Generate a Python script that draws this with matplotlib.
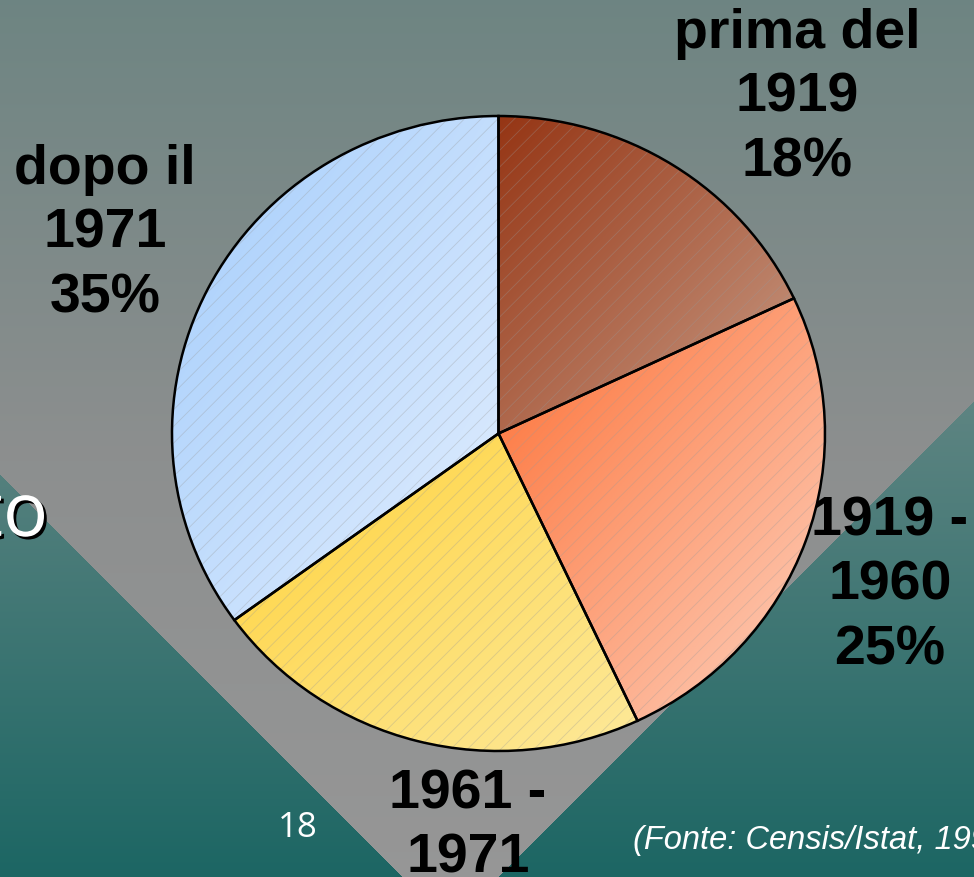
import numpy as np
import matplotlib.pyplot as plt
from matplotlib.patches import Wedge
import matplotlib.patheffects as pe

# dati del grafico
etichette = ["prima del\n1919", "1919 -\n1960", "1961 -\n1971", "dopo il\n1971"]
percentuali = [18, 25, 22, 35]
colori_inizio = ["#953514", "#fd7035", "#ffd23a", "#a4cdfc"]
colori_fine = ["#c99c86", "#fdd2bf", "#fde99a", "#e2eefe"]

# posizioni delle etichette (pixel, y verso il basso)
pos_etichette = [(797, 98), (890, 586), (468, 859), (105, 234)]

W, H = 974, 878
fig = plt.figure(figsize=(W / 100, H / 100), dpi=100)

# sfondo della diapositiva
yy, xx = np.mgrid[0:H, 0:W]
alto = np.array([0.43, 0.52, 0.51])
centro = np.array([0.55, 0.56, 0.56])
basso = np.array([0.59, 0.59, 0.59])
t1 = np.clip(yy / 450, 0, 1)[..., None]
t2 = np.clip((yy - 450) / 428, 0, 1)[..., None]
sfondo = np.where(yy[..., None] < 450, alto + (centro - alto) * t1, centro + (basso - centro) * t2)
teal_alto = np.array([0.37, 0.52, 0.51])
teal_basso = np.array([0.11, 0.40, 0.39])
tt = np.clip((yy - 400) / 478, 0, 1)[..., None]
teal = teal_alto + (teal_basso - teal_alto) * tt
maschera = ((xx < yy - 475) | (xx > 1375 - yy))[..., None]
sfondo = np.where(maschera, teal, sfondo)

ax_bg = fig.add_axes([0, 0, 1, 1])
ax_bg.imshow(sfondo, extent=(0, W, H, 0), aspect="auto")
ax_bg.set_xlim(0, W)
ax_bg.set_ylim(H, 0)
ax_bg.axis("off")

# testi della diapositiva
ax_bg.text(48, 537, "to", ha="right", va="baseline", color="white", fontsize=54,
           family="Open Sans",
           path_effects=[pe.withSimplePatchShadow(offset=(2, -2), shadow_rgbFace="black", alpha=1)])
ax_bg.text(298, 828, "18", ha="center", va="center", color="white", fontsize=25, family="Open Sans")
ax_bg.text(633, 841, "(Fonte: Censis/Istat, 1999)", ha="left", va="center", color="white",
           fontsize=23.5, style="italic", family="Liberation Sans")

for lab, p, (x, y) in zip(etichette, percentuali, pos_etichette):
    ax_bg.text(x, y, f"{lab}\n{p}%", ha="center", va="center", fontsize=40,
               fontweight="bold", family="Liberation Sans", linespacing=1.31, color="black")

# torta
plt.rcParams["hatch.linewidth"] = 0.6
ax = fig.add_axes([172 / W, (H - 752) / H, 653 / W, 635 / H])
ax.patch.set_alpha(0)
wedges, _ = ax.pie(percentuali, startangle=90, counterclock=False, colors=["none"] * 4,
                   wedgeprops=dict(linewidth=1.8, edgecolor="black", zorder=3))

n = 200
gx, gy = np.meshgrid(np.linspace(0, 1, n), np.linspace(0, 1, n))
tg = ((gx + gy) / 2)[..., None]
for w, c0, c1 in zip(wedges, colori_inizio, colori_fine):
    a = np.radians(np.linspace(w.theta1, w.theta2, 100))
    px = np.concatenate([[0], np.cos(a)])
    py = np.concatenate([[0], np.sin(a)])
    c0 = np.array(plt.matplotlib.colors.to_rgb(c0))
    c1 = np.array(plt.matplotlib.colors.to_rgb(c1))
    img = c0 + (c1 - c0) * tg
    im = ax.imshow(img, extent=(px.min(), px.max(), py.min(), py.max()), origin="upper",
                   aspect="auto", zorder=1)
    im.set_clip_path(w)
    ax.add_patch(Wedge((0, 0), 1, w.theta1, w.theta2, facecolor="none",
                       edgecolor=(0.6, 0.6, 0.6, 0.35), hatch="//", linewidth=0, zorder=2))

ax.set_xlim(-1.0, 1.0)
ax.set_ylim(-1.0, 1.0)
ax.set_aspect("auto")
ax.axis("off")

fig.savefig("out.png", dpi=100)
